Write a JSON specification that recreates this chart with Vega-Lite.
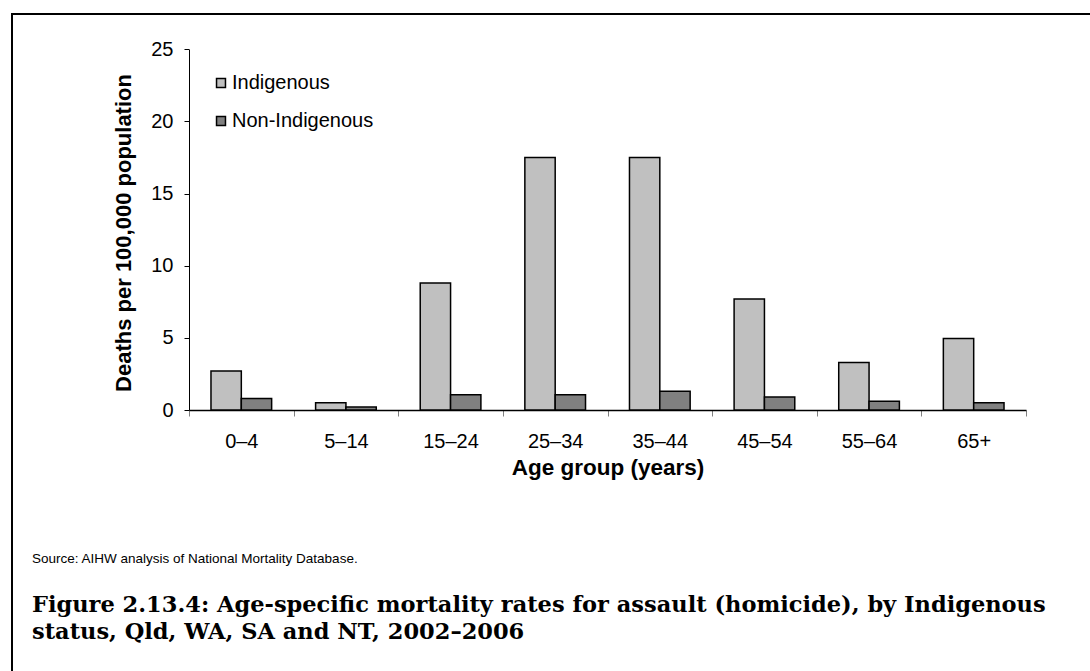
{
  "$schema": "https://vega.github.io/schema/vega-lite/v6.json",
  "autosize": {"type": "none"},
  "padding": {"left": 12, "top": 14, "right": 0, "bottom": 0},
  "width": 1078,
  "height": 657,
  "background": "white",
  "title": {
    "text": "Source: AIHW analysis of National Mortality Database.",
    "subtitle": ["Figure 2.13.4: Age-specific mortality rates for assault (homicide), by Indigenous", "status, Qld, WA, SA and NT, 2002–2006"],
    "orient": "bottom",
    "anchor": "start",
    "frame": "group",
    "offset": -119,
    "dx": 20,
    "font": "Liberation Sans",
    "fontSize": 13.5,
    "fontWeight": "normal",
    "color": "black",
    "subtitleFont": "DejaVu Serif",
    "subtitleFontSize": 22.5,
    "subtitleFontWeight": "bold",
    "subtitleColor": "black",
    "subtitlePadding": 28,
    "subtitleLineHeight": 27
  },
  "data": {
    "values": [
      {"age": "0–4", "status": "Indigenous", "rate": 2.7},
      {"age": "0–4", "status": "Non-Indigenous", "rate": 0.8},
      {"age": "5–14", "status": "Indigenous", "rate": 0.5},
      {"age": "5–14", "status": "Non-Indigenous", "rate": 0.2},
      {"age": "15–24", "status": "Indigenous", "rate": 8.8},
      {"age": "15–24", "status": "Non-Indigenous", "rate": 1.05},
      {"age": "25–34", "status": "Indigenous", "rate": 17.5},
      {"age": "25–34", "status": "Non-Indigenous", "rate": 1.05},
      {"age": "35–44", "status": "Indigenous", "rate": 17.5},
      {"age": "35–44", "status": "Non-Indigenous", "rate": 1.3},
      {"age": "45–54", "status": "Indigenous", "rate": 7.7},
      {"age": "45–54", "status": "Non-Indigenous", "rate": 0.9},
      {"age": "55–64", "status": "Indigenous", "rate": 3.3},
      {"age": "55–64", "status": "Non-Indigenous", "rate": 0.6},
      {"age": "65+", "status": "Indigenous", "rate": 4.95},
      {"age": "65+", "status": "Non-Indigenous", "rate": 0.5}
    ]
  },
  "mark": {"type": "bar", "stroke": "black", "strokeWidth": 1.5},
  "encoding": {
    "x": {
      "field": "age",
      "type": "nominal",
      "sort": ["0–4", "5–14", "15–24", "25–34", "35–44", "45–54", "55–64", "65+"],
      "scale": {
        "type": "band",
        "domain": ["0–4", "5–14", "15–24", "25–34", "35–44", "45–54", "55–64", "65+"],
        "range": [177, 1014],
        "paddingInner": 0,
        "paddingOuter": 0
      },
      "axis": {
        "orient": "bottom",
        "offset": -261,
        "domain": true,
        "domainColor": "black",
        "domainWidth": 1.5,
        "tickBand": "extent",
        "tickSize": 6,
        "tickColor": "#808080",
        "tickWidth": 1,
        "labelAngle": 0,
        "labelFontSize": 20,
        "labelColor": "black",
        "labelPadding": 15,
        "title": "Age group (years)",
        "titleFontSize": 22.5,
        "titleFontWeight": "bold",
        "titleColor": "black",
        "titleX": 595.5,
        "titleY": 57,
        "titleAlign": "center",
        "titleBaseline": "middle",
        "grid": false
      }
    },
    "xOffset": {
      "field": "status",
      "type": "nominal",
      "scale": {"domain": ["Indigenous", "Non-Indigenous"], "paddingInner": 0, "paddingOuter": 0.7246}
    },
    "y": {
      "field": "rate",
      "type": "quantitative",
      "scale": {"domain": [0, 25], "range": [396, 35.3], "nice": false, "zero": true},
      "axis": {
        "orient": "left",
        "offset": -177,
        "domain": true,
        "domainColor": "black",
        "domainWidth": 1,
        "values": [0, 5, 10, 15, 20, 25],
        "tickSize": 5,
        "tickColor": "black",
        "labelFontSize": 20,
        "labelColor": "black",
        "labelPadding": 11,
        "title": "Deaths per 100,000 population",
        "titleFontSize": 22,
        "titleFontWeight": "bold",
        "titleColor": "black",
        "titleX": -66,
        "titleY": 218.5,
        "titleAngle": -90,
        "titleAlign": "center",
        "titleBaseline": "middle",
        "grid": false
      }
    },
    "color": {
      "field": "status",
      "type": "nominal",
      "scale": {"domain": ["Indigenous", "Non-Indigenous"], "range": ["#c0c0c0", "#808080"]},
      "legend": {
        "title": null,
        "orient": "none",
        "legendX": 199,
        "legendY": 59,
        "symbolType": "square",
        "symbolSize": 80,
        "symbolStrokeColor": "black",
        "symbolStrokeWidth": 1.5,
        "labelFontSize": 20,
        "labelColor": "black",
        "labelOffset": 1,
        "rowPadding": 18
      }
    }
  },
  "config": {
    "font": "Liberation Sans",
    "view": {"stroke": "black", "strokeWidth": 2, "strokeDash": [1078, 1735, 657]}
  }
}
